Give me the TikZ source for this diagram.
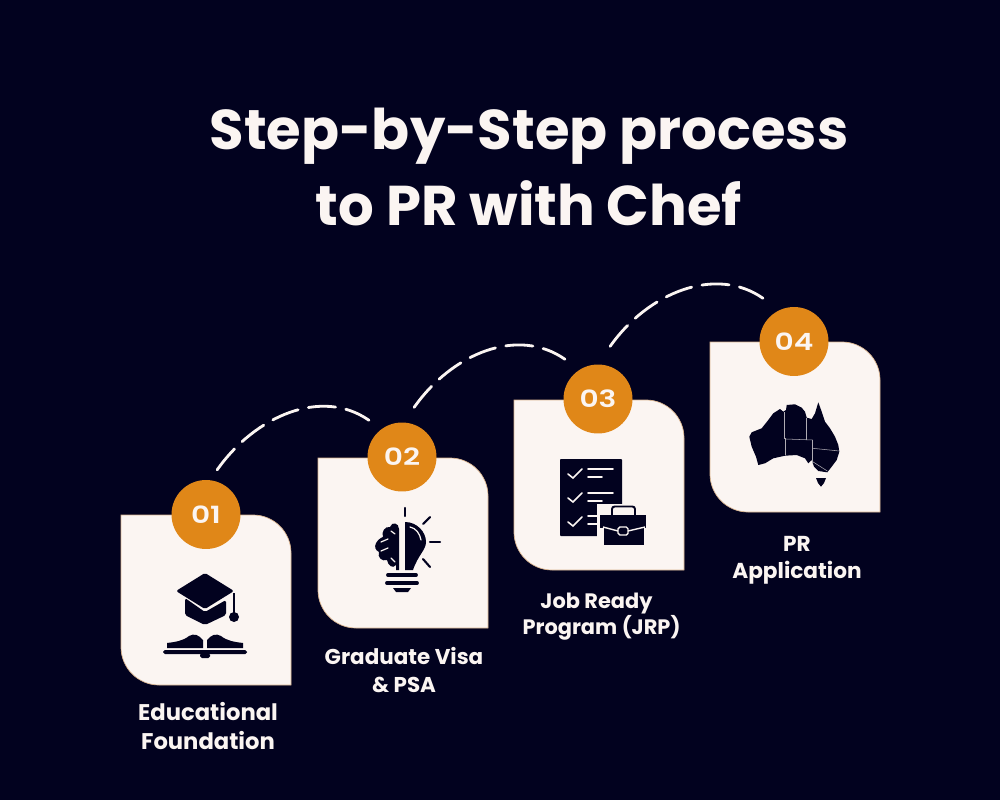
\documentclass[tikz,border=0pt]{standalone}
\usepackage{fontspec}
\usetikzlibrary{calc}
\setmainfont[BoldFont={Poppins Bold}]{Poppins SemiBold}
\newfontfamily\numfont[FakeStretch=1.25]{Poppins SemiBold}
\definecolor[named]{PRNavy}{HTML}{02021F}
\definecolor[named]{PRCream}{HTML}{FBF5F2}
\definecolor[named]{PROrange}{HTML}{E08718}
\definecolor[named]{PRTan}{HTML}{D9B48F}
\tikzset{card/.pic={ %{{{
  \draw[fill=PRCream,draw=PRTan,line width=0.4pt]
    (0,0) -- (132,0) .. controls (153,0) and (170,17) .. (170,38) --
    (170,170) -- (38,170) .. controls (17,170) and (0,153) .. (0,132) -- cycle;
}}
%}}}
\tikzset{cap/.pic={ %{{{
  \begin{scope}[PRNavy]
    \fill[rounded corners=1pt] (0,-42) -- (29,-24) -- (0,-6) -- (-29,-24) -- cycle;
    \fill[rounded corners=1pt] (-20,-17) -- (0,-3) -- (21,-15) -- (21,0) -- (0,10) -- (-20,0) -- cycle;
    \draw[line width=1.1pt] (29,-22) -- (29,0);
    \fill (29,2) circle [radius=5];
    % Book pages
    \fill (-38,28) -- (-38,33) -- (-2,33) -- (-2,25) .. controls (-6,20) and (-11,18) .. (-16,21)
      .. controls (-22,26) and (-30,27) .. (-38,28) -- cycle;
    \fill (38,28) -- (38,33) -- (2,33) -- (2,25) .. controls (6,20) and (11,18) .. (16,21)
      .. controls (22,26) and (30,27) .. (38,28) -- cycle;
    \fill[rounded corners=1pt] (-42,35) -- (42,35) -- (42,39) -- (-42,39) -- cycle;
    \fill[rounded corners=1pt] (-5,38) -- (5,38) -- (5,43) -- (-5,43) -- cycle;
  \end{scope}
}}
%}}}
\tikzset{bulb/.pic={ %{{{
  \begin{scope}[PRNavy,line cap=round]
    % Rays
    \draw[line width=1.2pt] (0,-37) -- (0,-29);
    \draw[line width=1.2pt] (18,-21) -- (25,-28);
    \draw[line width=1.2pt] (25,-3) -- (35,-3);
    \draw[line width=1.2pt] (18,14) -- (25,22);
    % Lamp half
    \fill (0,-23) .. controls (12,-23) and (21,-13) .. (21,-3) .. controls (21,5) and (13,10) .. (8,25)
      -- (0,25) -- cycle;
    \draw[PRCream,line width=0.7pt] (5,-18) .. controls (11,-17) and (15,-11) .. (16,-5);
    % Brain half
    \fill (-6,25) -- (-6,-16) .. controls (-6,-22) and (-13,-24) .. (-15,-18)
      .. controls (-20,-19) and (-24,-13) .. (-22,-8) .. controls (-28,-6) and (-34,3) .. (-26,7)
      .. controls (-28,12) and (-23,17) .. (-18,15) .. controls (-17,21) and (-12,24) .. (-9,20)
      -- (-9,25) -- cycle;
    \draw[PRCream,line width=0.7pt] (-14,-14) -- (-10,-11);
    \draw[PRCream,line width=0.7pt] (-24,-3) -- (-17,-6);
    \draw[PRCream,line width=0.7pt] (-24,6) -- (-17,3);
    \draw[PRCream,line width=0.7pt] (-14,13) -- (-10,17);
    % Screw base
    \draw[line width=2.2pt] (-17,30) -- (11,30);
    \draw[line width=2.2pt] (-18,38) -- (12,38);
    \fill (-12,43) -- (6,43) -- (3,47) -- (-9,47) -- cycle;
  \end{scope}
}}
%}}}
\tikzset{checklist/.pic={ %{{{
  \begin{scope}[PRNavy]
    \fill[rounded corners=0.5pt] (-42,-41) rectangle (20,36);
    \begin{scope}[PRCream,line width=0.9pt,line cap=round]
      \draw (-34,-26) -- (-29,-22) -- (-20,-31);
      \draw (-14,-31) -- (11,-31);
      \draw (-14,-23) -- (0,-23);
      \draw (-34,-2) -- (-29,2) -- (-20,-7);
      \draw (-14,-7) -- (11,-7);
      \draw (-14,1) -- (0,1);
      \draw (-34,22) -- (-29,26) -- (-20,17);
      \draw (-14,16) -- (0,16);
      \draw (-14,24) -- (0,24);
    \end{scope}
    % Briefcase
    \fill[PRCream] (-5,4) rectangle (47,48);
    \draw[line width=1.1pt,rounded corners=1.5pt] (10,15) -- (10,6.5) -- (33,6.5) -- (33,15);
    \fill (-2,15) rectangle (44,28);
    \fill (2,26) rectangle (42,45);
    \draw[PRCream,line width=0.8pt] (1,27) -- (16,31);
    \draw[PRCream,line width=0.8pt] (26,31) -- (43,27);
    \draw[PRCream,line width=0.8pt,rounded corners=1pt] (16,27) rectangle (26,35);
  \end{scope}
}}
%}}}
\tikzset{ausmap/.pic={ %{{{
  \fill[PRNavy] (-45.7,-8.3) -- (-43.3,-12.7) -- (-33.3,-16.7) -- (-26.7,-25) -- (-21.7,-31.7) -- (-15,-36)
    -- (-11.7,-33.3) -- (-9,-35) -- (-8.3,-40) -- (0,-40.7) -- (6.7,-37.3) -- (10,-33.3) -- (11.7,-27.3)
    -- (16.7,-26) -- (20,-31.7) -- (23.3,-42.7) -- (26.7,-33.3) -- (30,-23.3) -- (35,-16.7) -- (40,-8.3)
    -- (43.3,0) -- (44.3,6.7) -- (41.7,15) -- (36.7,21.7) -- (32.3,27.3) -- (23.3,26) -- (19,21.7)
    -- (16.7,15) -- (13.3,18.3) -- (10,13.3) -- (1.7,10) -- (-10,10.7) -- (-21.7,13.3) -- (-30,18.3)
    -- (-36.7,20) -- (-39,11.7) -- (-43.3,1.7) -- cycle;
  \fill[PRNavy] (21,33) -- (31,33) -- (29,38) -- (26,41.7) -- (23,38) -- cycle;
  % State borders
  \begin{scope}[PRCream!70!PRNavy,line width=0.3pt]
    \draw (-10.7,-33) -- (-10.7,-6.7) -- (-9.3,-6.7) -- (-9.3,10);
    \draw (-9.3,-6) -- (17.7,-5);
    \draw (11,-26.7) -- (11,-5.5);
    \draw (17.7,-5) -- (17.7,18.3);
    \draw (17.7,3.3) -- (44.3,6);
    \draw (17.7,16.7) -- (32.3,26);
  \end{scope}
}}
%}}}
\tikzset{
  num/.style={circle,fill=PROrange,text=PRCream,minimum size=1.38cm,inner sep=0pt,outer sep=0.23cm,
    font=\numfont\fontsize{13.5}{16}\selectfont},
  steptext/.style 2 args={text=PRCream,align=center,inner sep=0pt,
    font=\bfseries\fontsize{#1}{#2}\selectfont},
  hop/.style={to path={
    .. controls ($(\tikztostart)+(38,-54)$) and ($(\tikztotarget)+(-50,-35)$) ..
    (\tikztotarget) \tikztonodes}},
  hopline/.style={PRCream,line width=1.6pt,line cap=round,dash pattern=on 15.5pt off 6pt,
    shorten >=0.07cm,hop}
}

\begin{document}
\begin{tikzpicture}[x=0.02cm,y=-0.02cm]
    \useasboundingbox (0,0) rectangle (1000,800);
    \fill[PRNavy] (0,0) rectangle (1000,800);

    % Title
    \node[text=PRCream,align=center,inner sep=0pt,
      font=\bfseries\fontsize{31.9}{43.8}\selectfont] (title) at (529,167)
      {Step-by-Step process\\to PR with Chef};

    % Cards
    \pic at (121,515) {card};
    \pic at (318,458) {card};
    \pic at (514,400) {card};
    \pic at (710,342) {card};

    % Icons
    \pic at (205,615) {cap};
    \pic at (405,545) {bulb};
    \pic at (602,500) {checklist};
    \pic at (795,445) {ausmap};

    % Numbers
    \node[num] (n1) at (206,514.5) {01};
    \node[num] (n2) at (402,457) {02};
    \node[num] (n3) at (598,399) {03};
    \node[num] (n4) at (794,341.5) {04};

    % Dashed hops between the numbers
    \draw[hopline] (n1.76) to (n2.131);
    \draw[hopline] ($(n2.76)+(1,-5)$) to ($(n3.131)+(0,-3)$);
    \draw[hopline] ($(n3.76)+(1,-8)$) to ($(n4.131)+(2,-6.5)$);

    % Labels
    \node[steptext={12.9}{16.5}] (l1) at (208,726) {Educational\\Foundation};
    \node[steptext={12.2}{15.4}] (l2) at (404,670) {Graduate Visa\\\& PSA};
    \node[steptext={11.9}{14.8}] (l3) at (601.5,617) {Job Ready\hspace*{5.7pt}\\Program (JRP)};
    \node[steptext={12.3}{15.4}] (l4) at (797,560) {PR\\Application};
\end{tikzpicture}
\end{document}
